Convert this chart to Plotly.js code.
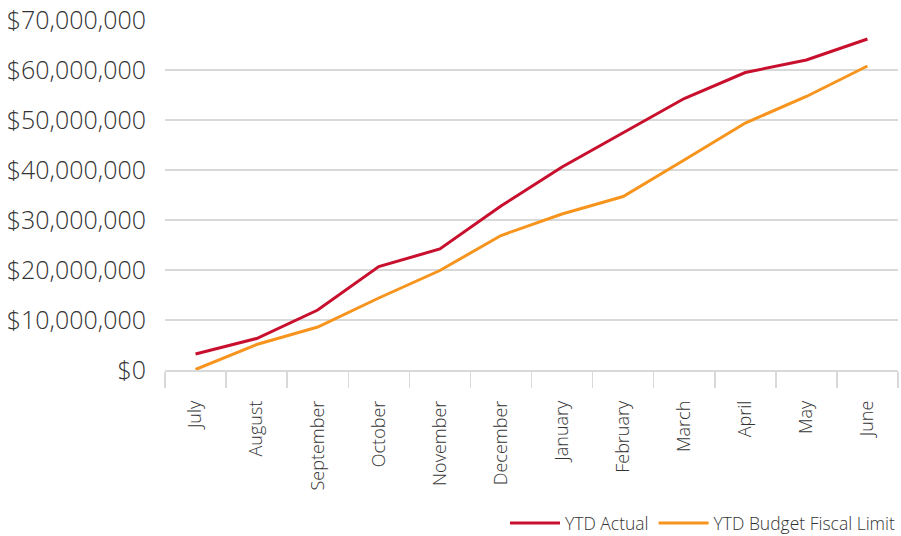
<!DOCTYPE html>
<html>
<head>
<meta charset="utf-8">
<script src="https://cdn.plot.ly/plotly-3.0.1.min.js"></script>
<style>
  html, body { margin: 0; padding: 0; background: #fff; }
  #chart { width: 901px; height: 536px; }
</style>
</head>
<body>
<div id="chart"></div>
<script>
// Fiscal year months
const months = ["July", "August", "September", "October", "November", "December",
                "January", "February", "March", "April", "May", "June"];

// Year-to-date cumulative spending (USD)
const ytdActual = [3200000, 6300000, 12000000, 20700000, 24200000, 32800000,
                   40600000, 47500000, 54300000, 59500000, 62000000, 66200000];

// Year-to-date budget fiscal limit (USD)
const ytdBudget = [100000, 5100000, 8600000, 14400000, 19900000, 26900000,
                   31200000, 34700000, 42000000, 49400000, 54700000, 60800000];

const textColor = "#333333";
const gridColor = "#d9d9d9";
const fontFamily = "'Open Sans', Lato, sans-serif";

const traces = [
  {
    x: months, y: ytdActual, name: "YTD Actual", type: "scatter", mode: "lines",
    line: { color: "#c8102e", width: 3 }
  },
  {
    x: months, y: ytdBudget, name: "YTD Budget Fiscal Limit", type: "scatter", mode: "lines",
    line: { color: "#f7941d", width: 3 }
  }
];

const layout = {
  width: 901, height: 536,
  margin: { l: 165, r: 3, t: 20, b: 166 },
  paper_bgcolor: "#fff", plot_bgcolor: "#fff",
  font: { family: fontFamily, color: textColor, weight: 300 },
  showlegend: true,
  legend: {
    orientation: "h", xref: "container", yref: "container",
    x: 1, xanchor: "right", y: 0.024, yanchor: "middle",
    font: { size: 17.5, color: textColor, weight: 300 }, itemwidth: 50,
    traceorder: "normal"
  },
  xaxis: {
    type: "category",
    range: [-0.5, 11.5],
    automargin: false,
    tickangle: -90,
    ticks: "outside", tickson: "boundaries", ticklen: 16, tickcolor: gridColor, tickwidth: 1.5,
    showline: true, linecolor: gridColor, linewidth: 1.5,
    showgrid: false, zeroline: false,
    ticklabelstandoff: 22,
    tickfont: { size: 18, color: textColor, weight: 300 }
  },
  yaxis: {
    range: [0, 70000000], dtick: 10000000, tick0: 0,
    tickprefix: "$", tickformat: ",d",
    automargin: false,
    showgrid: true, gridcolor: gridColor, gridwidth: 1.5,
    zeroline: false, showline: false, ticks: "",
    ticklabelstandoff: 18,
    tickfont: { size: 25, color: textColor, weight: 300 },
    fixedrange: true
  }
};

Plotly.newPlot("chart", traces, layout, { displayModeBar: false, staticPlot: true });
</script>
</body>
</html>
